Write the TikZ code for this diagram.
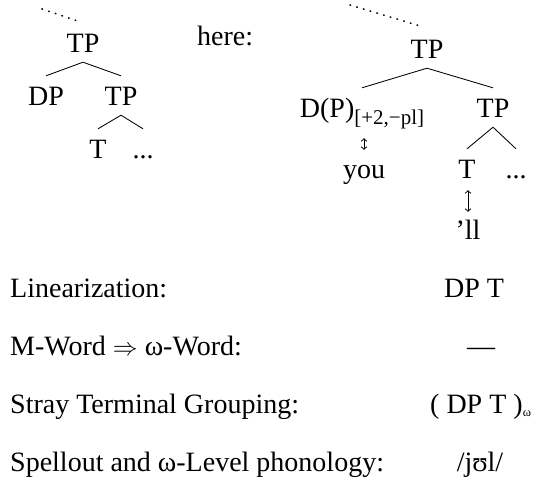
\documentclass[tikz,border=0pt]{standalone}
\usepackage{fontspec}
\setmainfont{Liberation Serif}
\usetikzlibrary{arrows.meta,calc}
\begin{document}
\begin{tikzpicture}[x=1pt,y=-1pt,
  lab/.style={inner sep=0pt, anchor=base, font=\fontsize{28}{34}\selectfont},
  tn/.style={lab, text height=19pt, text depth=0pt, inner ysep=10pt, inner xsep=0pt},
  branch/.style={line width=0.85pt},
  uda/.style={line width=0.8pt, {Straight Barb[length=2.5pt,width=5.5pt]}-{Straight Barb[length=2.5pt,width=5.5pt]}},
  dots/.style={line width=1.6pt, line cap=round, dash pattern=on 0.6pt off 6.4pt}]
\useasboundingbox (0,0) rectangle (538,483);
% left tree
\node[tn] (tp1) at (83,52) {TP};
\node[tn] (dp1) at (46,105) {DP};
\node[tn] (tp2) at (121,105) {TP};
\node[tn] (t1) at (98,158) {T};
\node[tn] (el1) at (143,158) {...};
\coordinate (d1) at (42,9);
\draw[dots] (d1) -- ($(tp1.north)+(-3,-1)$);
\draw[branch] (dp1.north) -- (tp1.south) -- (tp2.north);
\draw[branch] (t1.north) -- (tp2.south) -- (el1.north);
% here
\node[lab, anchor=base west] (here) at (197,45) {here:};
% right tree
\node[tn] (tp3) at (427,58) {TP};
\node[tn] (dpb) at (362,117) {D(P)\raisebox{-7pt}{\fontsize{21}{21}\selectfont[+2,−pl]}};
\node[tn] (tp4) at (493,117) {TP};
\node[tn] (you) at (364,178) {you};
\node[tn] (t2) at (467,178) {T};
\node[tn] (el2) at (516,178) {...};
\node[tn] (ll) at (468,239) {’ll};
\coordinate (d2) at (350,5);
\draw[dots] (d2) -- ($(tp3.north)+(-4,-2)$);
\draw[branch] (dpb.north) -- (tp3.south) -- (tp4.north);
\draw[branch] (t2.north) -- (tp4.south) -- (el2.north);
\draw[uda, shorten <=11pt, shorten >=-1pt] (dpb.south -| you.north) -- (you.north);
\draw[uda, shorten <=2pt, shorten >=-2pt] (t2.south -| ll.north) -- (ll.north);
% derivation table
\node[lab, anchor=base west] (lin) at (10,297) {Linearization:};
\node[lab, anchor=base west] (mw) at (10,355) {M-Word $\Rightarrow$ ω-Word:};
\node[lab, anchor=base west] (stg) at (10,413) {Stray Terminal Grouping:};
\node[lab, anchor=base west] (sp) at (10,471) {Spellout and ω-Level phonology:};
\node[lab, anchor=base west] (linv) at (444,297) {DP T};
\node[lab, anchor=base west] (mwv) at (467,355) {—};
\node[lab, anchor=base west] (stgv) at (430,413) {( DP T )\raisebox{-3pt}{\fontsize{12.5}{12.5}\selectfont ω}};
\node[lab] (spv) at (480,471) {/jʊl/};
\end{tikzpicture}
\end{document}
